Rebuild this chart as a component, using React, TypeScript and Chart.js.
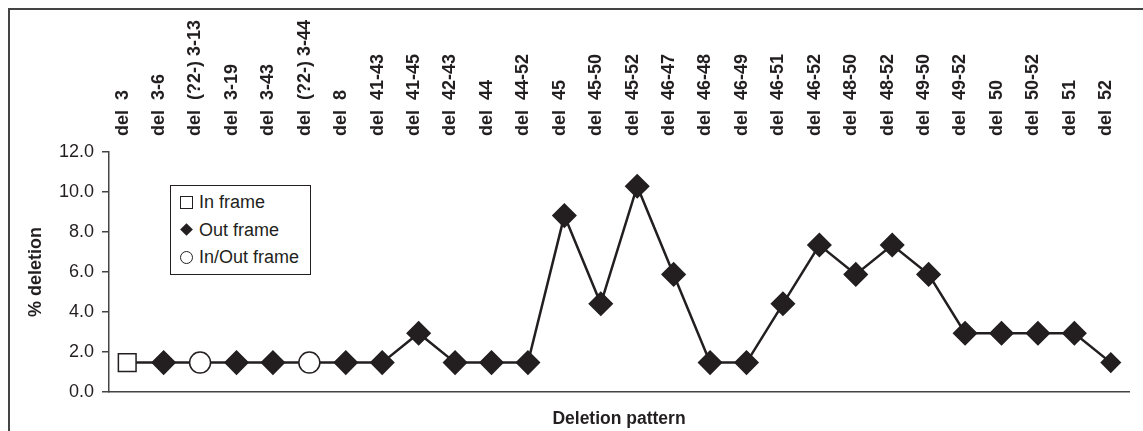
import React, { useEffect, useRef } from 'react';
import { Chart, registerables } from 'chart.js';

Chart.register(...registerables);

const categories = [
  'del  3', 'del  3-6', 'del  (?2-) 3-13', 'del  3-19', 'del  3-43', 'del  (?2-) 3-44',
  'del  8', 'del  41-43', 'del  41-45', 'del  42-43', 'del  44', 'del  44-52', 'del  45',
  'del  45-50', 'del  45-52', 'del  46-47', 'del  46-48', 'del  46-49', 'del  46-51',
  'del  46-52', 'del  48-50', 'del  48-52', 'del  49-50', 'del  49-52', 'del  50',
  'del  50-52', 'del  51', 'del  52',
];

const deletionPct = [
  1.47, 1.47, 1.47, 1.47, 1.47, 1.47, 1.47, 1.47, 2.94, 1.47, 1.47, 1.47, 8.82, 4.41,
  10.29, 5.88, 1.47, 1.47, 4.41, 7.35, 5.88, 7.35, 5.88, 2.94, 2.94, 2.94, 2.94, 1.47,
];

const frameType = [
  'in', 'out', 'inout', 'out', 'out', 'inout', 'out', 'out', 'out', 'out', 'out', 'out',
  'out', 'out', 'out', 'out', 'out', 'out', 'out', 'out', 'out', 'out', 'out', 'out',
  'out', 'out', 'out', 'out',
];

const legendLabels = ['In frame', 'Out frame', 'In/Out frame'];
const yMin = 0;
const yMax = 12;
const yStep = 2;

const INK = '#231f20';
const FONT = "'Liberation Sans', Arial, Helvetica, sans-serif";

export default function App() {
  const canvasRef = useRef<HTMLCanvasElement | null>(null);

  useEffect(() => {
    const canvas = canvasRef.current;
    if (!canvas) return;
    const last = deletionPct.length - 1;
    const chart = new Chart(canvas, {
      type: 'line',
      data: {
        labels: categories,
        datasets: [
          {
            label: '% deletion',
            data: deletionPct,
            borderColor: INK,
            borderWidth: 2.5,
            tension: 0,
            fill: false,
            pointStyle: frameType.map((t) => (t === 'in' ? 'rect' : t === 'out' ? 'rectRot' : 'circle')),
            pointBackgroundColor: frameType.map((t) => (t === 'out' ? INK : '#ffffff')),
            pointBorderColor: INK,
            pointBorderWidth: 1.5,
            pointRadius: (ctx: any) => {
              const t = frameType[ctx.dataIndex];
              if (t === 'in') return 12.5;
              if (t === 'inout') return 10.5;
              return ctx.dataIndex === last ? 9.5 : 11.5;
            },
            pointHoverRadius: 11.5,
            xAxisID: 'x',
            yAxisID: 'y',
          },
        ],
      },
      options: {
        animation: false,
        responsive: true,
        maintainAspectRatio: false,
        layout: { padding: { left: 0, right: 13, top: 0, bottom: 0 } },
        plugins: {
          legend: { display: false },
          tooltip: { enabled: false },
        },
        scales: {
          x: {
            type: 'category',
            position: 'bottom',
            offset: true,
            grid: { display: false, drawTicks: false },
            border: { display: true, color: '#444', width: 1.5 },
            ticks: { display: false },
            title: {
              display: true,
              text: 'Deletion pattern',
              color: INK,
              font: { family: FONT, size: 17.5, weight: 'bold' },
              padding: { top: 0, bottom: 1 },
            },
            afterFit: (s: any) => {
              s.height = 39;
            },
          },
          x2: {
            type: 'category',
            position: 'top',
            offset: true,
            grid: { display: false, drawTicks: false },
            border: { display: false },
            ticks: {
              autoSkip: false,
              minRotation: 90,
              maxRotation: 90,
              padding: 16,
              labelOffset: 17,
              color: INK,
              font: { family: FONT, size: 18, weight: 'bold' },
            },
            afterFit: (s: any) => {
              s.height = 152;
            },
          },
          y: {
            position: 'left',
            min: yMin,
            max: yMax,
            ticks: {
              stepSize: yStep,
              padding: 8,
              color: INK,
              font: { family: FONT, size: 18 },
              callback: (v: any) => Number(v).toFixed(1),
            },
            grid: { display: true, drawOnChartArea: false, drawTicks: true, tickLength: 7, color: '#444', lineWidth: 1.5 },
            border: { display: true, color: '#444', width: 1.5 },
            title: {
              display: true,
              text: '% deletion',
              color: INK,
              font: { family: FONT, size: 18, weight: 'bold' },
              padding: { top: 25, bottom: 0 },
            },
            afterFit: (s: any) => {
              s.width = 109;
            },
          },
        },
      },
    });
    return () => chart.destroy();
  }, []);

  const sym = (i: number) => {
    const base: React.CSSProperties = { display: 'inline-block', boxSizing: 'border-box', marginRight: 6, verticalAlign: 'middle' };
    if (i === 0) return <span style={{ ...base, width: 13, height: 13, border: `1.5px solid ${INK}`, background: '#fff' }} />;
    if (i === 1)
      return (
        <span style={{ ...base, width: 13, height: 13, position: 'relative' }}>
          <span style={{ position: 'absolute', left: 2, top: 2, width: 9, height: 9, background: INK, transform: 'rotate(45deg)' }} />
        </span>
      );
    return <span style={{ ...base, width: 13, height: 13, border: `1.5px solid ${INK}`, borderRadius: '50%', background: '#fff' }} />;
  };

  return (
    <div style={{ position: 'fixed', left: 0, top: 0, width: 1143, height: 431, overflow: 'hidden', background: '#fff' }}>
      <div
        style={{
          position: 'absolute',
          left: 8,
          top: 8,
          width: 1200,
          height: 500,
          borderTop: '2px solid #444',
          borderLeft: '2px solid #444',
        }}
      />
      <div style={{ position: 'absolute', left: 0, top: 0, width: 1143, height: 431 }}>
        <canvas ref={canvasRef} />
      </div>
      <div
        style={{
          position: 'absolute',
          left: 170,
          top: 185,
          width: 141,
          height: 90,
          boxSizing: 'border-box',
          border: `1.5px solid ${INK}`,
          background: '#fff',
          fontFamily: FONT,
          fontSize: 18,
          color: INK,
          padding: '2px 0 0 9px',
        }}
      >
        {legendLabels.map((l, i) => (
          <div key={l} style={{ height: 27.5, lineHeight: '27.5px', whiteSpace: 'nowrap' }}>
            {sym(i)}
            <span style={{ verticalAlign: 'middle' }}>{l}</span>
          </div>
        ))}
      </div>
    </div>
  );
}
